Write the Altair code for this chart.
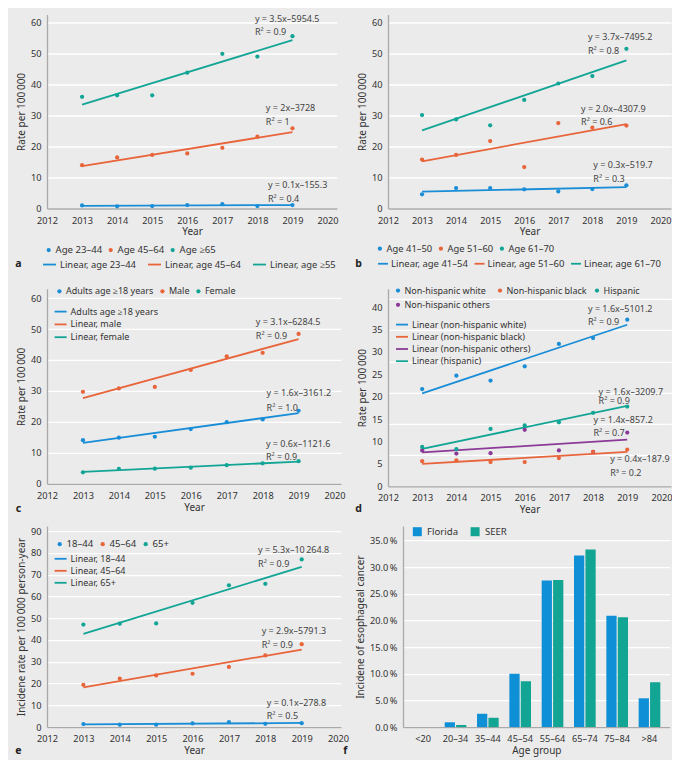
import altair as alt
import pandas as pd

FONT = "Noto Sans"
BG = "#ebebeb"
TXT = "#333333"
BLUE = "#1a8dd7"
ORANGE = "#e8643a"
TEAL = "#12a596"
PURPLE = "#8b3a97"

YEARS = [2013, 2014, 2015, 2016, 2017, 2018, 2019]
X_TICKS = [2012, 2013, 2014, 2015, 2016, 2017, 2018, 2019, 2020]

# ---------------- panel a ----------------
a_series = ["Age 23–44", "Age 45–64", "Age ≥65"]
a_fits = ["Linear, age 23–44", "Linear, age 45–64", "Linear, age ≥55"]
a_age_23_44 = [1.0, 0.7, 0.8, 1.1, 1.4, 0.8, 1.1]
a_age_45_64 = [14.0, 16.5, 17.3, 17.8, 19.6, 23.2, 25.9]
a_age_65 = [36.1, 36.6, 36.6, 43.9, 50.0, 49.1, 55.7]
a_eq_text = ["y = 3.5x–5954.5", "R² = 0.9", "y = 2x–3728", "R² = 1", "y = 0.1x–155.3", "R² = 0.4"]
a_eq_x = [2017.93, 2017.93, 2018.24, 2018.24, 2018.30, 2018.30]
a_eq_y = [61.4, 57.0, 32.4, 27.9, 7.6, 3.0]

# ---------------- panel b ----------------
b_series = ["Age 41–50", "Age 51–60", "Age 61–70"]
b_fits = ["Linear, age 41–54", "Linear, age 51–60", "Linear, age 61–70"]
b_age_41_50 = [4.6, 6.6, 6.6, 6.2, 5.5, 6.3, 7.5]
b_age_51_60 = [15.8, 17.3, 21.8, 13.4, 27.6, 26.1, 26.8]
b_age_61_70 = [30.2, 28.8, 26.9, 35.1, 40.4, 42.8, 51.6]
b_eq_text = ["y = 3.7x–7495.2", "R² = 0.8", "y = 2.0x–4307.9", "R² = 0.6", "y = 0.3x–519.7", "R² = 0.3"]
b_eq_x = [2017.87, 2017.87, 2017.67, 2017.67, 2018.03, 2018.03]
b_eq_y = [55.4, 50.9, 32.3, 27.9, 14.1, 9.5]

# ---------------- panel c ----------------
c_series = ["Adults age ≥18 years", "Male", "Female"]
c_fits = ["Adults age ≥18 years", "Linear, male", "Linear, female"]
c_adults = [14.1, 14.9, 15.2, 17.7, 19.9, 20.8, 23.6]
c_male = [29.7, 30.8, 31.3, 36.8, 41.2, 42.3, 48.4]
c_female = [3.7, 4.8, 4.9, 5.2, 6.0, 6.6, 7.3]
c_eq_text = ["y = 3.1x–6284.5", "R² = 0.9", "y = 1.6x–3161.2", "R² = 1.0", "y = 0.6x–1121.6", "R² = 0.9"]
c_eq_x = [2017.81, 2017.81, 2018.11, 2018.11, 2018.09, 2018.09]
c_eq_y = [52.3, 47.6, 29.2, 24.5, 13.0, 8.6]

# ---------------- panel d ----------------
d_series = ["Non-hispanic white", "Non-hispanic black", "Hispanic", "Non-hispanic others"]
d_fits_of_series = ["Linear (non-hispanic white)", "Linear (non-hispanic black)",
                    "Linear (hispanic)", "Linear (non-hispanic others)"]
d_fit_order = ["Linear (non-hispanic white)", "Linear (non-hispanic black)",
               "Linear (non-hispanic others)", "Linear (hispanic)"]
d_white = [21.7, 24.7, 23.6, 26.8, 31.8, 33.1, 37.2]
d_black = [5.6, 5.8, 5.4, 5.4, 6.3, 7.7, 8.2]
d_hispanic = [8.8, 8.3, 12.8, 13.6, 14.3, 16.4, 17.8]
d_others = [8.0, 7.3, 7.4, 12.6, 8.0, 7.7, 12.0]
d_eq_text = ["y = 1.6x–5101.2", "R² = 0.9", "y = 1.6x–3209.7", "R² = 0.9",
             "y = 1.4x–857.2", "R² = 0.7", "y = 0.4x–187.9", "R³ = 0.2"]
d_eq_x = [2017.85, 2017.85, 2018.16, 2018.16, 2018.01, 2018.01, 2018.50, 2018.50]
d_eq_y = [39.6, 36.7, 21.0, 19.1, 14.7, 11.8, 6.0, 3.0]
d_grid = [10, 20, 30, 40, 50, 60]

# ---------------- panel e ----------------
e_series = ["18–44", "45–64", "65+"]
e_fits = ["Linear, 18–44", "Linear, 45–64", "Linear, 65+"]
e_18_44 = [1.4, 1.1, 1.1, 1.7, 2.3, 1.5, 1.8]
e_45_64 = [19.4, 22.3, 23.7, 24.5, 27.6, 32.9, 38.1]
e_65 = [47.1, 47.5, 47.6, 57.1, 65.1, 65.8, 77.0]
e_eq_text = ["y = 5.3x–10\u2009264.8", "R² = 0.9", "y = 2.9x–5791.3", "R² = 0.9", "y = 0.1x–278.8", "R² = 0.5"]
e_eq_x = [2017.80, 2017.80, 2017.90, 2017.90, 2018.04, 2018.04]
e_eq_y = [81.5, 75.1, 44.1, 37.9, 11.2, 5.1]

# ---------------- panel f ----------------
f_groups = ["<20", "20–34", "35–44", "45–54", "55–64", "65–74", "75–84", ">84"]
f_sources = ["Florida", "SEER"]
f_florida = [0.0, 0.9, 2.5, 10.0, 27.5, 32.2, 20.9, 5.4]
f_seer = [0.0, 0.4, 1.75, 8.6, 27.6, 33.3, 20.6, 8.4]


def long_df(series, fits, values):
    rows = []
    for s, f, vals in zip(series, fits, values):
        for yr, v in zip(YEARS, vals):
            rows.append({"year": yr, "value": v, "series": s, "fit": f})
    return pd.DataFrame(rows)


def ann_df(texts, xs, ys):
    return pd.DataFrame({"year": xs, "value": ys, "text": texts})


def point_legend(x, y, fs, columns=None, colpad=6.0, rowpad=2.0):
    kw = dict(orient="none", legendX=x, legendY=y, direction="horizontal", title=None,
              symbolType="circle", symbolSize=18, labelOffset=2, columnPadding=colpad,
              rowPadding=rowpad, padding=0, labelFont=FONT, labelFontSize=fs, labelColor=TXT)
    if columns:
        kw["columns"] = columns
    return alt.Legend(**kw)


def line_legend(x, y, direction, fs, colpad=11.0, rowpad=0.5, size=144, offset=3):
    return alt.Legend(orient="none", legendX=x, legendY=y, direction=direction, title=None,
                      symbolType="stroke", symbolSize=size, symbolStrokeWidth=1.8, labelOffset=offset,
                      columnPadding=colpad, rowPadding=rowpad, padding=0, labelFont=FONT,
                      labelFontSize=fs, labelColor=TXT)


def text_layer(text, x, y, bold=True, opacity=1.0, align="center"):
    return alt.Chart(pd.DataFrame({"t": [text]})).mark_text(
        x=x, y=y, align=align, baseline="middle", font=FONT, fontSize=10.5 if bold else 10,
        fontWeight="bold" if bold else "normal", color="#222222", opacity=opacity).encode(text="t:N")


def line_panel(df, ann, width, height, xmax, ymax, yticks, ytitle, series, pcolors,
               fits, fcolors, pleg, lleg, extras, grid=True, grid_extra=None):
    x = alt.X("year:Q", scale=alt.Scale(domain=[2012, xmax], nice=False, zero=False),
              axis=alt.Axis(values=X_TICKS, format="d", title="Year", grid=False))
    y = alt.Y("value:Q", scale=alt.Scale(domain=[0, ymax], nice=False, zero=True),
              axis=alt.Axis(values=yticks, title=ytitle, grid=grid, orient="left"))
    base = alt.Chart(df)
    lines = base.transform_regression("year", "value", groupby=["fit"]).mark_line(
        strokeWidth=1.8).encode(
        x=x, y=y,
        stroke=alt.Stroke("fit:N", scale=alt.Scale(domain=fits, range=fcolors), legend=lleg))
    pts = base.mark_circle(size=18, opacity=1).encode(
        x=x, y=y,
        color=alt.Color("series:N", scale=alt.Scale(domain=series, range=pcolors), legend=pleg))
    txt = alt.Chart(ann).mark_text(align="left", baseline="middle", font=FONT, fontSize=9,
                                   color="#444444").encode(x=x, y=y, text="text:N")
    layers = [lines, pts, txt] + extras
    inner = alt.layer(*layers).properties(width=width, height=height)
    if grid_extra is None:
        return inner
    gl = alt.Chart(pd.DataFrame({"g": grid_extra[0]})).mark_rule(opacity=0).encode(
        y=alt.Y("g:Q", scale=alt.Scale(domain=[0, grid_extra[1]], nice=False),
                axis=alt.Axis(values=grid_extra[0], grid=True, labels=False, ticks=False,
                              domain=False, title=None, orient="right")))
    return alt.layer(gl, inner).resolve_scale(y="independent").properties(width=width, height=height)


Y60 = [0, 10, 20, 30, 40, 50, 60]
C3 = [BLUE, ORANGE, TEAL]

pa = line_panel(long_df(a_series, a_fits, [a_age_23_44, a_age_45_64, a_age_65]),
                ann_df(a_eq_text, a_eq_x, a_eq_y), 290, 194, 2020.27, 62.7, Y60,
                "Rate per 100\u2009000", a_series, C3, a_fits, C3,
                point_legend(-3.1, 230.5, 9.6, colpad=3),
                line_legend(-5, 242.5, "horizontal", 9.4, colpad=8, size=169),
                [text_layer("a", -28.5, 249),
                 text_layer("00", 308, 120, bold=False, opacity=0, align="right"),
                 text_layer("00", 0, 254.25, bold=False, opacity=0)])

pb = line_panel(long_df(b_series, b_fits, [b_age_41_50, b_age_51_60, b_age_61_70]),
                ann_df(b_eq_text, b_eq_x, b_eq_y), 283, 194, 2020.31, 62.7, Y60,
                "Rate per 100\u2009000", b_series, C3, b_fits, C3,
                point_legend(-12.8, 229, 9.4, colpad=3),
                line_legend(-11, 243, "horizontal", 9.5, colpad=2.5, size=100, offset=2),
                [text_layer("b", -29.4, 249)])

pc = line_panel(long_df(c_series, c_fits, [c_adults, c_male, c_female]),
                ann_df(c_eq_text, c_eq_x, c_eq_y), 294, 195, 2020.18, 63.0, Y60,
                "Rate per 100\u2009000", c_series, C3, c_fits, C3,
                point_legend(7.9, -2.25, 9.0, colpad=4),
                line_legend(6.6, 15.8, "vertical", 9.0, rowpad=0.8),
                [text_layer("c", -28.5, 220),
                 text_layer("00", 308, 120, bold=False, opacity=0, align="right")])

d_df = long_df([d_series[3], d_series[0], d_series[2], d_series[1]],
               [d_fits_of_series[3], d_fits_of_series[0], d_fits_of_series[2], d_fits_of_series[1]],
               [d_others, d_white, d_hispanic, d_black])
pd_ = line_panel(d_df, ann_df(d_eq_text, d_eq_x, d_eq_y), 283, 197.5, 2020.28, 44.1,
                 [0, 5, 10, 15, 20, 25, 30, 35, 40], "Rate per 100\u2009000",
                 d_series, [BLUE, ORANGE, TEAL, PURPLE], d_fit_order, [BLUE, ORANGE, PURPLE, TEAL],
                 point_legend(5.5, -2.95, 9.0, columns=3, colpad=5, rowpad=4.5),
                 line_legend(7, 28.8, "vertical", 9.0, rowpad=0.2),
                 [text_layer("d", -29.4, 220)], grid=False, grid_extra=(d_grid, 63.3))

pe = line_panel(long_df(e_series, e_fits, [e_18_44, e_45_64, e_65]),
                ann_df(e_eq_text, e_eq_x, e_eq_y), 294, 201, 2020.08, 92.3,
                [0, 10, 20, 30, 40, 50, 60, 70, 80, 90],
                "Incidene rate per 100\u2009000 person-year", e_series, C3, e_fits, C3,
                point_legend(7.9, 12.95, 9.6, colpad=4),
                line_legend(6.6, 25.7, "vertical", 9.0, rowpad=0),
                [text_layer("e", -28.5, 225), text_layer("f", 298.3, 225),
                 text_layer("00", 303.6, 120, bold=False, opacity=0, align="right")])

f_df = pd.DataFrame({
    "age": f_groups * 2,
    "source": ["Florida"] * len(f_groups) + ["SEER"] * len(f_groups),
    "pct": f_florida + f_seer,
})
pf = alt.Chart(f_df).mark_bar().encode(
    x=alt.X("age:N", sort=f_groups, scale=alt.Scale(paddingInner=0.33, paddingOuter=0.29),
            axis=alt.Axis(title="Age group", labelAngle=0, grid=False)),
    xOffset=alt.XOffset("source:N", sort=f_sources, scale=alt.Scale(paddingInner=0.1)),
    y=alt.Y("pct:Q", scale=alt.Scale(domain=[0, 37.7], nice=False),
            axis=alt.Axis(values=[0, 5, 10, 15, 20, 25, 30, 35], grid=True,
                          labelExpr="format(datum.value, '.1f') + '\u2009%'",
                          title="Incidene of esophageal cancer")),
    color=alt.Color("source:N", scale=alt.Scale(domain=f_sources, range=["#0e8fd6", "#13a593"]),
                    legend=alt.Legend(orient="none", legendX=9.5, legendY=0.5, direction="horizontal",
                                      title=None, symbolType="square", symbolSize=81,
                                      symbolStrokeWidth=0, labelOffset=5, columnPadding=11.8,
                                      padding=0, labelFont=FONT, labelFontSize=9.6, labelColor=TXT)),
).properties(width=266.7, height=201)

IND = dict(x="independent", y="independent", color="independent", stroke="independent")
LIND = dict(color="independent", stroke="independent")

chart = alt.concat(
    pa, pb, pc, pd_, pe, pf, columns=2,
    spacing={"row": 11.3, "column": 0},
    align={"row": "each", "column": "none"},
).resolve_scale(**IND).resolve_legend(**LIND).properties(
    background=BG, padding={"left": 7, "top": 6.5, "right": 0, "bottom": 2}
).configure(font=FONT).configure_view(stroke=None).configure_axis(
    labelFont=FONT, labelFontSize=9.2, labelColor=TXT, titleFont=FONT, titleFontSize=10,
    titleFontWeight="normal", titleColor=TXT, domainColor="#a9a9a9", domainWidth=1.3,
    ticks=False, gridColor="#ffffff", gridWidth=1.3, labelPadding=6, titlePadding=4,
    labelFlush=False, labelOverlap=False
).configure_axisX(labelPadding=7.5, titlePadding=1.5).configure_legend(
    labelFont=FONT, labelFontSize=10, labelColor=TXT, padding=0
)

chart.save("out.html", embed_options={"renderer": "svg", "actions": False})
